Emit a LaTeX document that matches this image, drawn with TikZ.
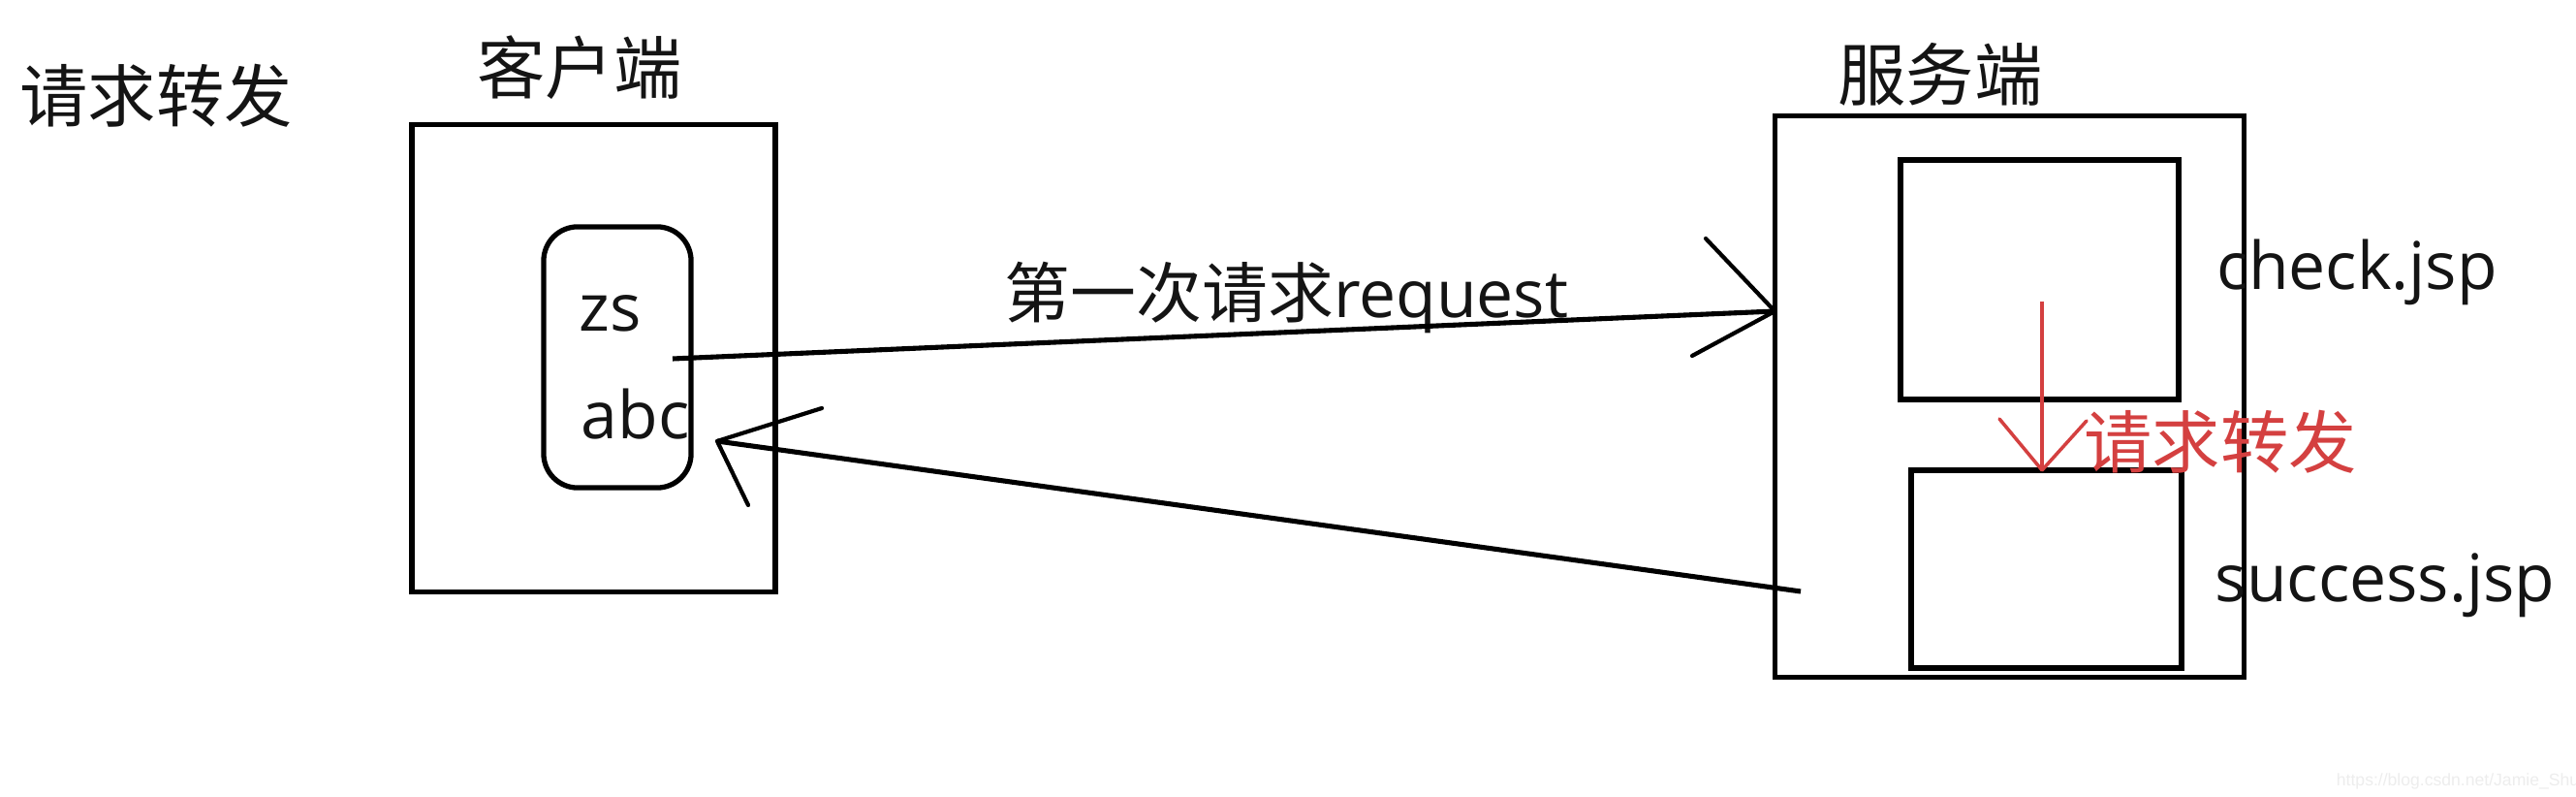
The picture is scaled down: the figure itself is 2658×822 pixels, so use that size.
\documentclass[tikz,border=0pt]{standalone}
\usepackage{fontspec}
\setmainfont{Open Sans}
\newfontfamily\cjk{Noto Sans CJK SC}
\newfontfamily\wmfont{Liberation Sans}
\definecolor{fwdred}{RGB}{212,64,64}
\definecolor{ink}{RGB}{20,20,20}
\begin{document}
\begin{tikzpicture}[x=0.01cm,y=-0.01cm,
  frame/.style={draw=black, line width=1.5pt, inner sep=0pt, outer sep=0pt},
  conn/.style={draw=black, line width=1.45pt},
  barb/.style={draw=black, line width=1.2pt, line cap=round},
  cjklbl/.style={inner sep=0pt, text=ink, font=\cjk\fontsize{20}{24}\selectfont},
  latlbl/.style={inner sep=0pt, text=ink, font=\fontsize{19.3}{23}\selectfont},
  fwd/.style={draw=fwdred, line width=1pt},
  watermark/.style={inner sep=0pt, text=black!7, font=\wmfont\fontsize{5}{6}\selectfont}]
\useasboundingbox[fill=white] (0,0) rectangle (2658,822);

% boxes
\node[frame, minimum width=3.75cm, minimum height=4.81cm] (client) at (612.5,369.5) {};
\node[frame, rounded corners=0.35cm, minimum width=1.52cm, minimum height=2.69cm] (store) at (637,368.5) {};
\node[frame, minimum width=4.84cm, minimum height=5.78cm] (server) at (2073.5,409) {};
\node[frame, minimum width=2.87cm, minimum height=2.47cm] (check) at (2104.5,288.5) {};
\node[frame, minimum width=2.79cm, minimum height=2.04cm] (success) at (2111.5,587) {};

% texts
\node[cjklbl] (title) at (161,99) {请求转发};
\node[cjklbl] (clientlbl) at (598,70) {客户端};
\node[cjklbl] (serverlbl) at (2002,77) {服务端};
\node[latlbl, anchor=base west] (zs) at (597,342) {zs};
\node[latlbl, anchor=base west] (abc) at (599,453) {abc};
\node[latlbl, anchor=base west] (checklbl) at (2287,299) {check.jsp};
\node[latlbl, anchor=base west] (successlbl) at (2285,620) {success.jsp};
\node[latlbl, anchor=base west] (reqlbl) at (1036,328) {{\cjk 第一次请求}request};
\node[cjklbl, text=fwdred] (fwdlbl) at (2291,456) {请求转发};
\node[watermark] (wm) at (2536,806) {https://blog.csdn.net/Jamie\_Shu};

% first request: client -> server
\coordinate (reqStart) at (694,370);
\coordinate (reqTip) at (server.west |- 0,321);
\draw[conn] (reqStart) -- (reqTip);
\draw[barb] (reqTip) -- (1760,246) (reqTip) -- (1746,367);

% response: server -> client
\coordinate (retStart) at (1858,610);
\coordinate (retTip) at (740,455);
\draw[conn] (retStart) -- (retTip);
\draw[barb] (retTip) -- (848,421) (retTip) -- (772,521);

% forward: check.jsp -> success.jsp
\coordinate (fwdStart) at (2107,311);
\coordinate (fwdTip) at (success.north -| fwdStart);
\draw[fwd] (fwdStart) -- (fwdTip);
\draw[fwd, line cap=round] (fwdTip) -- (2063,432) (fwdTip) -- (2153,434);
\end{tikzpicture}
\end{document}
